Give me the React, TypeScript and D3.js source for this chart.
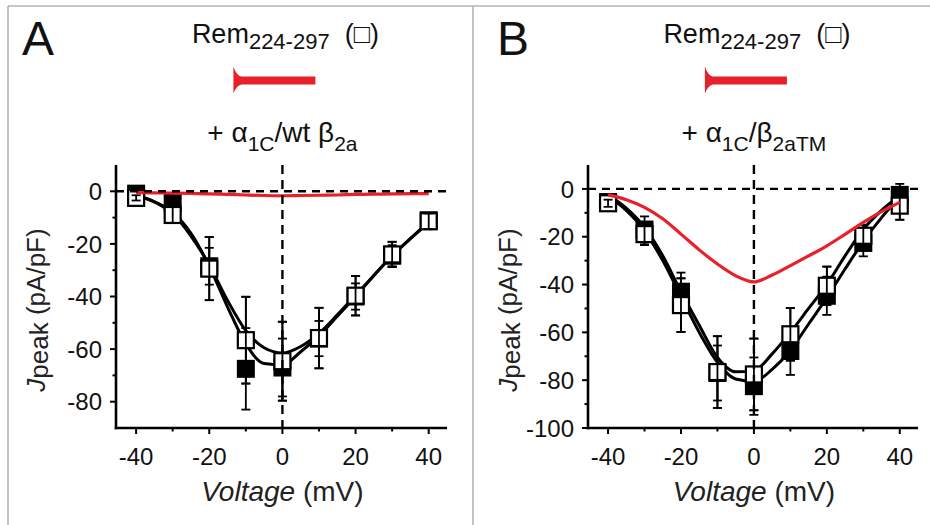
import React from 'react';
import * as d3 from 'd3';

// measured test potentials (mV)
const voltages = [-40, -30, -20, -10, 0, 10, 20, 30, 40];
// sample points of the fitted curves (mV)
const fitVoltages = [-40, -35, -30, -25, -20, -15, -10, -5, 0, 5, 10, 15, 20, 25, 30, 35, 40];

// panel A: alpha1C / wt beta2a
const openA = [-2.5, -9, -29.4, -56.6, -64.6, -55.8, -39.7, -24, -11.4];
const openErrA = [1, 3, 12, 16.5, 15, 11.5, 7.5, 4.8, 3];
const filledA = [-0.9, -4.4, -28.5, -67.5, -67, -56, -40, -24.5, -11];
const filledErrA = [1, 2.5, 7, 15.5, 11, 6.7, 5, 4, 2.5];
const fitOpenA = [-1.5, -4, -8.5, -17, -28, -41.5, -53, -59.5, -61.5, -59, -54, -47, -39.5, -32, -24.5, -18, -12];
const fitFilledA = [-1.5, -4, -8, -16, -28.5, -44, -58, -65.5, -66, -61, -55, -47.5, -40, -32, -24.5, -18, -11.5];
const fitRedA = [-0.5, -0.6, -0.7, -0.8, -1, -1.2, -1.4, -1.6, -1.7, -1.6, -1.5, -1.4, -1.2, -1.1, -1, -0.9, -0.9];

// panel B: alpha1C / beta2aTM
const openB = [-6, -18.9, -48.6, -76.6, -77.6, -60.8, -40.5, -19.6, -7];
const openErrB = [1.5, 4.6, 11.2, 15, 15, 11, 8, 4.6, 5.9];
const filledB = [-5.5, -17, -43, -77, -82.5, -67.8, -44.7, -22.6, -2.5];
const filledErrB = [1.5, 5.5, 8, 11.5, 12, 10, 8, 5.6, 4.6];
const fitOpenB = [-2.5, -8, -16, -28, -43, -57, -70.5, -76.5, -76, -69, -60, -50, -40, -28, -17, -9, -3];
const fitFilledB = [-3, -9, -17.5, -30, -45, -60, -72.5, -79.5, -80.5, -75.5, -67.5, -56.5, -45.5, -33.5, -22, -12, -3.5];
const fitRedB = [-2.5, -4.5, -7.7, -12.5, -18.9, -25.5, -31.4, -36.3, -38.9, -36, -32.1, -28, -23.8, -19, -14, -9.5, -5.6];

const xTicks = [-40, -20, 0, 20, 40];
const xMinorTicks = [-30, -10, 10, 30];
const yTicksA = [0, -20, -40, -60, -80];
const yMinorA = [-10, -30, -50, -70];
const yTicksB = [0, -20, -40, -60, -80, -100];
const yMinorB = [-10, -30, -50, -70, -90];

const FONT = '"Liberation Sans", Arial, Helvetica, sans-serif';
const RED = '#e8202a';

function Panel({ letter, x0, x1, yDomain, yTicks, yMinor, open, openErr, filled, filledErr, fitOpen, fitFilled, fitRed, beta, frameX }) {
  const top = 165;
  const bottom = 428;
  const x = d3.scaleLinear().domain([-45.5, 45]).range([x0, x1]);
  const y = d3.scaleLinear().domain(yDomain).range([bottom, top]);
  const line = d3.line<number>()
    .x((d, i) => x(fitVoltages[i]))
    .y(d => y(d))
    .curve(d3.curveMonotoneX);
  const cx = x(0);
  const sq = 18;

  const errBars = (means, errs, key) => means.map((m, i) => {
    const xv = x(voltages[i]);
    const yt = y(m + errs[i]);
    const yb = y(m - errs[i]);
    return (
      <g key={key + i} stroke="#000" strokeWidth={1.8}>
        <line x1={xv} x2={xv} y1={yt} y2={yb} />
        <line x1={xv - 4.5} x2={xv + 4.5} y1={yt} y2={yt} />
        <line x1={xv - 4.5} x2={xv + 4.5} y1={yb} y2={yb} />
      </g>
    );
  });

  // red bar marker (Rem truncation)
  const bx0 = cx - 49;
  const bx1 = cx + 33;
  const by = 80.5;
  const marker = `M${bx0},${by - 14} Q${bx0 + 3},${by - 5} ${bx0 + 8},${by - 4} L${bx1},${by - 4} L${bx1},${by + 4} L${bx0 + 8},${by + 4} Q${bx0 + 3},${by + 5} ${bx0},${by + 13} Z`;

  return (
    <g fontFamily={FONT}>
      <text x={frameX + 14} y={55} fontSize={48} fill="#111">{letter}</text>
      <text x={cx + 3} y={43} fontSize={27} textAnchor="middle" fill="#111">
        Rem<tspan fontSize={22} dy={6}>224-297</tspan><tspan dy={-6}>{'\u00a0 (□)'}</tspan>
      </text>
      <path d={marker} fill={RED} />
      <text x={cx} y={142} fontSize={28} textAnchor="middle" fill="#111">
        + α<tspan fontSize={21} dy={9}>1C</tspan><tspan dy={-9}>{beta.pre}</tspan><tspan fontSize={21} dy={9}>{beta.sub}</tspan>
      </text>

      {/* error bars */}
      {errBars(filled, filledErr, 'fe')}
      {errBars(open, openErr, 'oe')}

      {/* fitted curves */}
      <path d={line(fitFilled)} fill="none" stroke="#000" strokeWidth={3} />
      <path d={line(fitOpen)} fill="none" stroke="#000" strokeWidth={3} />

      {filled.map((v, i) => (
        <rect key={'f' + i} x={x(voltages[i]) - sq / 2} y={y(v) - sq / 2} width={sq} height={sq} fill="#000" />
      ))}
      {open.map((v, i) => (
        <rect key={'o' + i} x={x(voltages[i]) - sq / 2 + 1} y={y(v) - sq / 2 + 1} width={sq - 2} height={sq - 2}
          fill="#fff" stroke="#000" strokeWidth={2.2} />
      ))}
      {/* error bars stay visible inside open squares */}
      {errBars(open, openErr, 'oe2')}

      <path d={line(fitRed)} fill="none" stroke={RED} strokeWidth={3.2} />

      {/* zero lines */}
      <line x1={x0} x2={x1 + 4} y1={y(0)} y2={y(0)} stroke="#000" strokeWidth={2.4} strokeDasharray="8 6" />
      <line x1={cx} x2={cx} y1={top} y2={bottom} stroke="#000" strokeWidth={2.4} strokeDasharray="9 6" />

      {/* axes */}
      <line x1={x0} x2={x0} y1={top} y2={bottom + 1.3} stroke="#000" strokeWidth={2.6} />
      <line x1={x0 - 1.3} x2={x1} y1={bottom} y2={bottom} stroke="#000" strokeWidth={2.6} />
      {yTicks.map(t => (
        <g key={'yt' + t}>
          <line x1={x0 - 6} x2={x0} y1={y(t)} y2={y(t)} stroke="#000" strokeWidth={2} />
          <text x={x0 - 14} y={y(t)} dy="0.36em" fontSize={24} textAnchor="end" fill="#111">{t}</text>
        </g>
      ))}
      {yMinor.map(t => (
        <line key={'ym' + t} x1={x0 - 3.5} x2={x0} y1={y(t)} y2={y(t)} stroke="#000" strokeWidth={2} />
      ))}
      {xTicks.map(t => (
        <g key={'xt' + t}>
          <line x1={x(t)} x2={x(t)} y1={bottom} y2={bottom + 6} stroke="#000" strokeWidth={2} />
          <text x={x(t)} y={bottom + 37} fontSize={24} textAnchor="middle" fill="#111">{t}</text>
        </g>
      ))}
      {xMinorTicks.map(t => (
        <line key={'xm' + t} x1={x(t)} x2={x(t)} y1={bottom} y2={bottom + 3.5} stroke="#000" strokeWidth={2} />
      ))}

      <text x={cx} y={501} fontSize={28} textAnchor="middle" fill="#222">
        <tspan fontStyle="italic">Voltage</tspan> (mV)
      </text>
      <text transform={`translate(${x0 - 71},310) rotate(-90)`} fontSize={26} textAnchor="middle" fill="#222">
        <tspan fontStyle="italic">J</tspan><tspan dy={3}>peak</tspan><tspan dy={-3}> (pA/pF)</tspan>
      </text>
    </g>
  );
}

export default function App() {
  return (
    <div style={{ position: 'absolute', left: 0, top: 0 }}>
      <svg width={930} height={525} style={{ display: 'block', background: '#fff' }}>
        <g stroke="#b4b4b4" strokeWidth={1.6}>
          <line x1={8} x2={930} y1={6} y2={6} />
          <line x1={8} x2={8} y1={6} y2={525} />
          <line x1={473} x2={473} y1={6} y2={525} />
        </g>
        <Panel letter="A" x0={116} x1={447} yDomain={[-90, 10]} yTicks={yTicksA} yMinor={yMinorA}
          open={openA} openErr={openErrA} filled={filledA} filledErr={filledErrA}
          fitOpen={fitOpenA} fitFilled={fitFilledA} fitRed={fitRedA}
          beta={{ pre: '/wt β', sub: '2a' }} frameX={8} />
        <Panel letter="B" x0={588} x1={918} yDomain={[-100, 10]} yTicks={yTicksB} yMinor={yMinorB}
          open={openB} openErr={openErrB} filled={filledB} filledErr={filledErrB}
          fitOpen={fitOpenB} fitFilled={fitFilledB} fitRed={fitRedB}
          beta={{ pre: '/β', sub: '2aTM' }} frameX={483} />
      </svg>
    </div>
  );
}
